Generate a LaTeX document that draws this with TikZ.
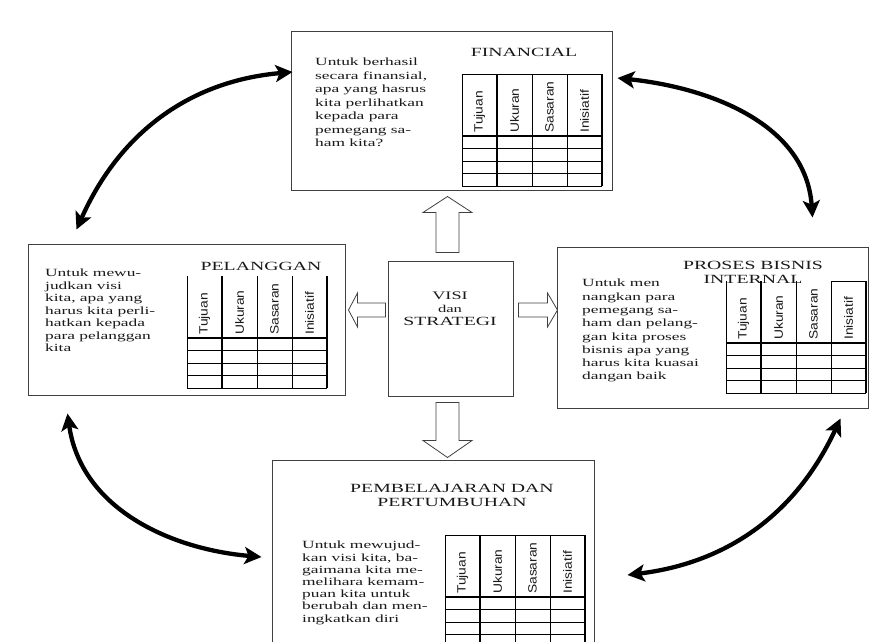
\documentclass[tikz,border=0pt]{standalone}
\usepackage{fontspec}
\setmainfont{Liberation Serif}[FakeStretch=1.58]
\newfontfamily\kolomfont{Liberation Sans}[FakeStretch=1.15]
\usetikzlibrary{arrows.meta,calc}

\tikzset{pics/blok/.style n args={4}{code={\draw[draw=black!75,line width=0.8pt,fill=white] (0,#2) -- ({#1-#4},#2) -- ({#1-#4},#3) -- (#1,0) -- ({#1-#4},-#3) -- ({#1-#4},-#2) -- (0,-#2) -- cycle;}}}

% tabel: #1,#2 = kiri atas, #3 = nama
\newcommand{\tabel}[3]{%
\begin{scope}[shift={(#1,-#2)}]
\foreach \x in {0,70,105} \draw[line width=0.8pt] (\x,0) -- (\x,-112);
\foreach \x in {35,140} \draw[line width=1.9pt] (\x,0) -- (\x,-112);
\draw[line width=1.5pt] (0,-62) -- (140,-62);
\foreach \y in {-74.5,-87,-99.5,-112} \draw[line width=0.9pt] (0,\y) -- (140,\y);
\foreach \i/\t in {0/Tujuan,1/Ukuran,2/Sasaran,3/Inisiatif} \node[kolom] (#3\i) at ({17.5+35*\i},-59) {\t};
\end{scope}}

\begin{document}
\begin{tikzpicture}[x=1pt,y=1pt,
  kotak/.style={draw=black!75,line width=1pt,fill=white},
  judul/.style={font=\fontsize{12.5}{14}\selectfont,align=center,inner sep=0,text=black!90},
  isi/.style={font=\fontsize{11}{13}\selectfont,align=left,anchor=north west,inner sep=0,text=black!90},
  kolom/.style={font=\kolomfont\fontsize{12}{12}\selectfont,rotate=90,anchor=west,inner sep=0,text=black!90},
  panah/.style={line width=4.3pt,{Stealth[length=17pt,width=17pt,inset=4pt]}-{Stealth[length=17pt,width=17pt,inset=4pt]}}]
\useasboundingbox (0,0) rectangle (882,-641);
\clip (0,0) rectangle (882,-641);
% kotak-kotak
\node[kotak,minimum width=321,minimum height=159] (fin) at (451.5,-110.5) {};
\node[kotak,minimum width=317,minimum height=151] (pel) at (186.5,-319.5) {};
\node[kotak,minimum width=311,minimum height=161] (pro) at (712.5,-327.5) {};
\node[kotak,minimum width=322,minimum height=210] (pem) at (433,-565) {};
\node[kotak,minimum width=125,minimum height=135] (visi) at (450.5,-328.5) {};
% financial
\node[judul] (finjudul) at (524,-52) {FINANCIAL};
\node[isi,font=\fontsize{11}{13.5}\selectfont] (finisi) at (315,-58) {Untuk berhasil\\secara finansial,\\apa yang hasrus\\kita perlihatkan\\kepada para\\pemegang sa-\\ham kita?};
\tabel{462}{74}{fint}
\draw[line width=0.8pt] (462,-74) -- (602,-74);
% pelanggan
\node[judul] (peljudul) at (261,-266) {PELANGGAN};
\node[isi,font=\fontsize{11}{12.5}\selectfont] (pelisi) at (45,-269) {Untuk mewu-\\judkan visi\\kita, apa yang\\harus kita perli-\\hatkan kepada\\para pelanggan\\kita};
\tabel{187}{276}{pelt}
% proses bisnis internal
\node[judul] (projudul) at (753,-272) {PROSES BISNIS\\INTERNAL};
\node[isi,font=\fontsize{11}{13.3}\selectfont] (proisi) at (582,-279) {Untuk men\\nangkan para\\pemegang sa-\\ham dan pelang-\\gan kita proses\\bisnis apa yang\\harus kita kuasai\\dangan baik};
\tabel{726}{281}{prot}
\draw[line width=0.8pt] (832,-281) -- (866,-281);
% pembelajaran dan pertumbuhan
\node[judul] (pemjudul) at (452,-495) {PEMBELAJARAN DAN\\PERTUMBUHAN};
\node[isi,font=\fontsize{11}{12.2}\selectfont] (pemisi) at (302,-541) {Untuk mewujud-\\kan visi kita, ba-\\gaimana kita me-\\melihara kemam-\\puan kita untuk\\berubah dan men-\\ingkatkan diri};
\tabel{445}{535}{pemt}
\draw[line width=0.8pt] (445,-535) -- (585,-535);
% visi dan strategi
\node[judul,font=\fontsize{12.5}{13}\selectfont] (visiteks) at (450,-309) {{\fontsize{11.5}{13}\selectfont VISI}\\{\fontsize{10.5}{13}\selectfont dan}\\STRATEGI};
\pic[rotate=90] at ([shift={(-3,8)}]visi.north) {blok={56}{11.5}{24.5}{16}};
\pic[rotate=-90] at ([shift={(-3,-6)}]visi.south) {blok={55}{11.5}{24.5}{17}};
\pic[rotate=180] at ([shift={(-2,18.5)}]visi.west) {blok={37}{7}{17}{9}};
\pic at ([shift={(5,18.5)}]visi.east) {blok={39}{7}{17}{10}};
% panah melengkung
\coordinate (a1) at ($(fin.west)+(2,38.5)$); \coordinate (a2) at ($(pel.north west)+(49,14)$);
\coordinate (b1) at ($(fin.east)+(5,32.5)$); \coordinate (b2) at ($(pro.north east)+(-56,29)$);
\coordinate (c1) at ($(pel.south west)+(40,-18)$); \coordinate (c2) at ($(pem.west)+(-10,8)$);
\coordinate (d1) at ($(pro.south east)+(-28,-10)$); \coordinate (d2) at ($(pem.east)+(33,-10)$);
\draw[panah] (a2) to[out=66,in=185] (a1);
\draw[panah] (b1) to[out=-6,in=94] (b2);
\draw[panah] (c1) to[out=-82,in=175] (c2);
\draw[panah] (d1) to[out=245,in=7] (d2);
\end{tikzpicture}
\end{document}
